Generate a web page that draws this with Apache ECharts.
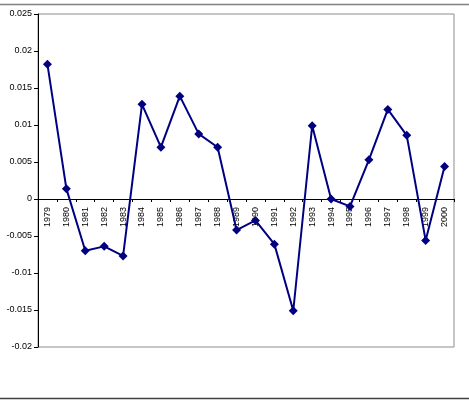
<!DOCTYPE html>
<html><head><meta charset="utf-8">
<script src="https://cdn.jsdelivr.net/npm/echarts@6/dist/echarts.min.js"></script>
<style>html,body{margin:0;padding:0;background:#fff}#c{width:469px;height:403px}</style>
</head><body><div id="c"></div>
<script>
const years = ['1979','1980','1981','1982','1983','1984','1985','1986','1987','1988','1989','1990','1991','1992','1993','1994','1995','1996','1997','1998','1999','2000'];
const values = [0.0182,0.0014,-0.0070,-0.0064,-0.0077,0.0128,0.0070,0.0139,0.0088,0.0070,-0.0042,-0.0029,-0.0061,-0.0151,0.0099,0.0000,-0.0010,0.0053,0.0121,0.0086,-0.0056,0.0044];
const yMin = -0.02, yMax = 0.025, yStep = 0.005;

const chart = echarts.init(document.getElementById('c'), null, {renderer:'canvas'});
chart.setOption({
  animation:false,
  backgroundColor:'#fff',
  grid:{left:38,top:14,width:416,height:333,show:true,borderColor:'#8c8c8c',borderWidth:1,backgroundColor:'transparent'},
  graphic:[
    {type:'line',shape:{x1:0,y1:4.5,x2:469,y2:4.5},style:{stroke:'#808080',lineWidth:1.5}},
    {type:'line',shape:{x1:0,y1:398.5,x2:469,y2:398.5},style:{stroke:'#404040',lineWidth:1.5}}
  ],
  xAxis:{
    type:'category',data:years,boundaryGap:true,position:'bottom',offset:0,
    axisLine:{onZero:false,lineStyle:{color:'#000',width:1}},
    axisTick:{show:true,length:3,inside:false,lineStyle:{color:'#000'}},
    axisLabel:{rotate:90,fontSize:9,fontFamily:'Liberation Sans, Arial',color:'#000',margin:8,interval:0},
    splitLine:{show:false}
  },
  yAxis:{
    type:'value',min:yMin,max:yMax,interval:yStep,
    axisLine:{show:true,lineStyle:{color:'#000',width:1}},
    axisTick:{show:true,length:4,lineStyle:{color:'#000'}},
    axisLabel:{fontSize:9,fontFamily:'Liberation Sans, Arial',color:'#000',margin:6},
    splitLine:{show:false}
  },
  series:[{
    type:'line',data:values,
    symbol:'diamond',symbolSize:9,
    lineStyle:{color:'#000080',width:2},
    itemStyle:{color:'#000080'}
  }]
});
// move the category axis (line, ticks, labels) up to the zero line of the value scale
const zeroPx = chart.convertToPixel({yAxisIndex:0}, 0);
const bottomPx = chart.convertToPixel({yAxisIndex:0}, yMin);
chart.setOption({xAxis:{offset: zeroPx - bottomPx}});
</script></body></html>
